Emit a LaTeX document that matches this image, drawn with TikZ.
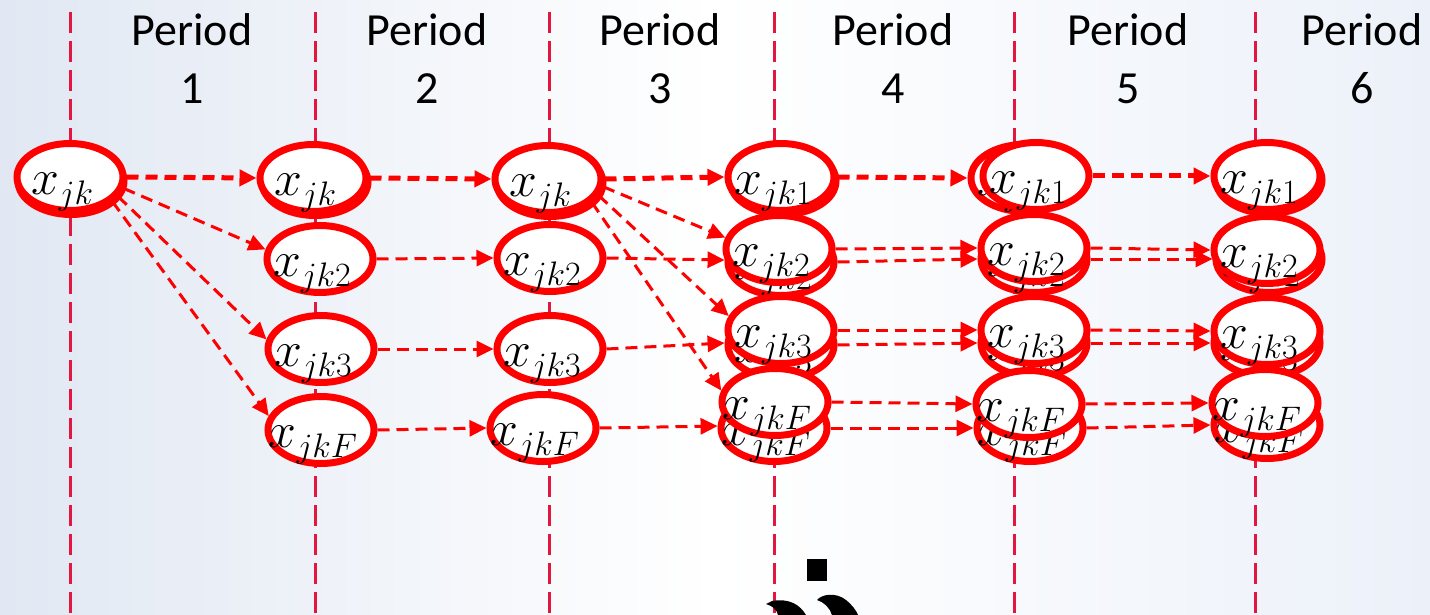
\documentclass[tikz,border=0pt]{standalone}
\usepackage{fix-cm}
\usepackage{fontspec}
\setmainfont{Carlito}
\usetikzlibrary{shapes.geometric,arrows.meta}

\definecolor{divider}{HTML}{E2163F}
\definecolor{flow}{HTML}{FF0000}
\definecolor{bgl}{HTML}{E1E8F3}
\definecolor{bgr}{HTML}{ECF1F9}

\newcommand{\varlabel}[1]{$x$\raisebox{-10pt}{\fontsize{34}{36}\selectfont$#1$}}

\tikzset{
  state/.style={ellipse, draw=flow, line width=7pt, fill=white,
    minimum width=106pt, minimum height=67pt, inner sep=0pt},
  divider/.style={draw=divider, line width=3pt, dash pattern=on 21pt off 8pt},
  flowarrow/.style={draw=flow, line width=3pt, dash pattern=on 12pt off 7pt,
    -{Triangle[length=17pt,width=16pt]}},
  heavy/.style={line width=5pt},
  period/.style={font=\fontsize{46}{58}\selectfont, align=center},
  var/.style={font=\fontsize{50}{56}\selectfont, inner sep=0pt},
  xv/.style={label={[var, anchor=base, xshift=-8pt, yshift=-15pt]center:\varlabel{#1}}}
}

\begin{document}
\begin{tikzpicture}[x=1pt, y=-1pt]
  \useasboundingbox (0,0) rectangle (1430,615);
  \shade[left color=bgl, right color=bgr, middle color=white] (0,0) rectangle (1430,615);

  % period dividers
  \foreach \dx in {70,315,549,774,1014,1255}
    \draw[divider] (\dx,12) -- (\dx,615);

  % period headings
  \node[period] (h1) at (192,59) {Period\\1};
  \node[period] (h2) at (427,59) {Period\\2};
  \node[period] (h3) at (660,59) {Period\\3};
  \node[period] (h4) at (893,59) {Period\\4};
  \node[period] (h5) at (1128,59) {Period\\5};
  \node[period] (h6) at (1362,59) {Period\\6};

  % period 1
  \node[state] (p1xs) at (71,181) {};
  \node[state, xv={jk}] (p1x) at (70,177) {};

  % period 2
  \node[state] (p2xs) at (315,182) {};
  \node[state, xv={jk}] (p2x) at (313,178) {};
  \node[state, xv={jk2}] (p2b) at (320,259) {};
  \node[state, xv={jk3}] (p2c) at (321,349) {};
  \node[state, xv={jkF}] (p2d) at (321,430) {};

  % period 3
  \node[state] (p3xs) at (550,183) {};
  \node[state, xv={jk}] (p3x) at (548,179) {};
  \node[state, xv={jk2}] (p3b) at (550,258) {};
  \node[state, xv={jk3}] (p3c) at (550,349) {};
  \node[state, xv={jkF}] (p3d) at (543,428) {};

  % period 4
  \node[state] (p4xs) at (783,181) {};
  \node[state, xv={jk1}] (p4x) at (781,177) {};
  \node[state, xv={jk2}] (p4bl) at (781,262) {};
  \node[state, xv={jk2}] (p4bu) at (779,249) {};
  \node[state, xv={jk3}] (p4cl) at (781,345) {};
  \node[state, xv={jk3}] (p4cu) at (781,330) {};
  \node[state, xv={jkF}] (p4dl) at (774,428) {};
  \node[state, xv={jkF}] (p4du) at (775,402) {};

  % period 5
  \node[state, xv={jk1}] (p5xa) at (1024,178) {};
  \node[state, xv={jk1}] (p5xb) at (1036,176) {};
  \node[state, xv={jk2}] (p5bl) at (1034,259) {};
  \node[state, xv={jk2}] (p5bu) at (1034,248) {};
  \node[state, xv={jk3}] (p5cl) at (1034,343) {};
  \node[state, xv={jk3}] (p5cu) at (1034,330) {};
  \node[state, xv={jkF}] (p5dl) at (1030,428) {};
  \node[state, xv={jkF}] (p5du) at (1029,404) {};

  % period 6
  \node[state] (p6xs) at (1269,180) {};
  \node[state, xv={jk1}] (p6x) at (1267,176) {};
  \node[state, xv={jk2}] (p6bl) at (1269,259) {};
  \node[state, xv={jk2}] (p6bu) at (1267,250) {};
  \node[state, xv={jk3}] (p6cl) at (1267,343) {};
  \node[state, xv={jk3}] (p6cu) at (1267,331) {};
  \node[state, xv={jkF}] (p6dl) at (1267,425) {};
  \node[state, xv={jkF}] (p6du) at (1265,403) {};

  % period 1 -> 2
  \draw[flowarrow, heavy] (p1x.east) -- (p2x.west);
  \draw[flowarrow] (p1x.-12) -- (p2b.170);
  \draw[flowarrow] (p1x.-22) -- (p2c.170);
  \draw[flowarrow] (p1x.-30) -- (p2d.165);

  % period 2 -> 3
  \draw[flowarrow, heavy] (p2x.east) -- (p3x.west);
  \draw[flowarrow] (p2b.east) -- (p3b.west);
  \draw[flowarrow] (p2c.east) -- (p3c.west);
  \draw[flowarrow] (p2d.east) -- (p3d.west);

  % period 3 -> 4
  \draw[flowarrow, heavy] (p3x.east) -- (p4x.west);
  \draw[flowarrow] (p3x.-8) -- (p4bu.168);
  \draw[flowarrow] (p3x.-18) -- (p4cu.165);
  \draw[flowarrow] (p3x.-28) -- (p4du.168);
  \draw[flowarrow] (p3b.east) -- (p4bl.178);
  \draw[flowarrow] (p3c.east) -- (p4cl.178);
  \draw[flowarrow] (p3d.east) -- (p4dl.178);

  % period 4 -> 5
  \draw[flowarrow, heavy] (p4x.east) -- (p5xa.west);
  \draw[flowarrow] (p4bu.east) -- (p5bu.west);
  \draw[flowarrow] (p4bl.east) -- (p5bl.west);
  \draw[flowarrow] (p4cu.east) -- (p5cu.west);
  \draw[flowarrow] (p4cl.east) -- (p5cl.west);
  \draw[flowarrow] (p4du.east) -- (p5du.west);
  \draw[flowarrow] (p4dl.east) -- (p5dl.west);

  % period 5 -> 6
  \draw[flowarrow, heavy] (p5xb.east) -- (p6x.west);
  \draw[flowarrow] (p5bu.east) -- (p6bu.west);
  \draw[flowarrow] (p5bl.east) -- (p6bl.west);
  \draw[flowarrow] (p5cu.east) -- (p6cu.west);
  \draw[flowarrow] (p5cl.east) -- (p6cl.west);
  \draw[flowarrow] (p5du.east) -- (p6du.west);
  \draw[flowarrow] (p5dl.east) -- (p6dl.west);

  % glyph fragments at the lower edge
  \fill (807,559) rectangle (827,581);
  \fill (766,604) -- (772,601) .. controls (790,598) and (800,605) .. (806,615)
        -- (778,615) .. controls (777,610) and (773,606) .. cycle;
  \fill (817,600) .. controls (822,594) and (836,592) .. (846,600)
        .. controls (852,605) and (856,610) .. (858,615)
        -- (832,615) .. controls (830,608) and (824,602) .. cycle;
\end{tikzpicture}
\end{document}
